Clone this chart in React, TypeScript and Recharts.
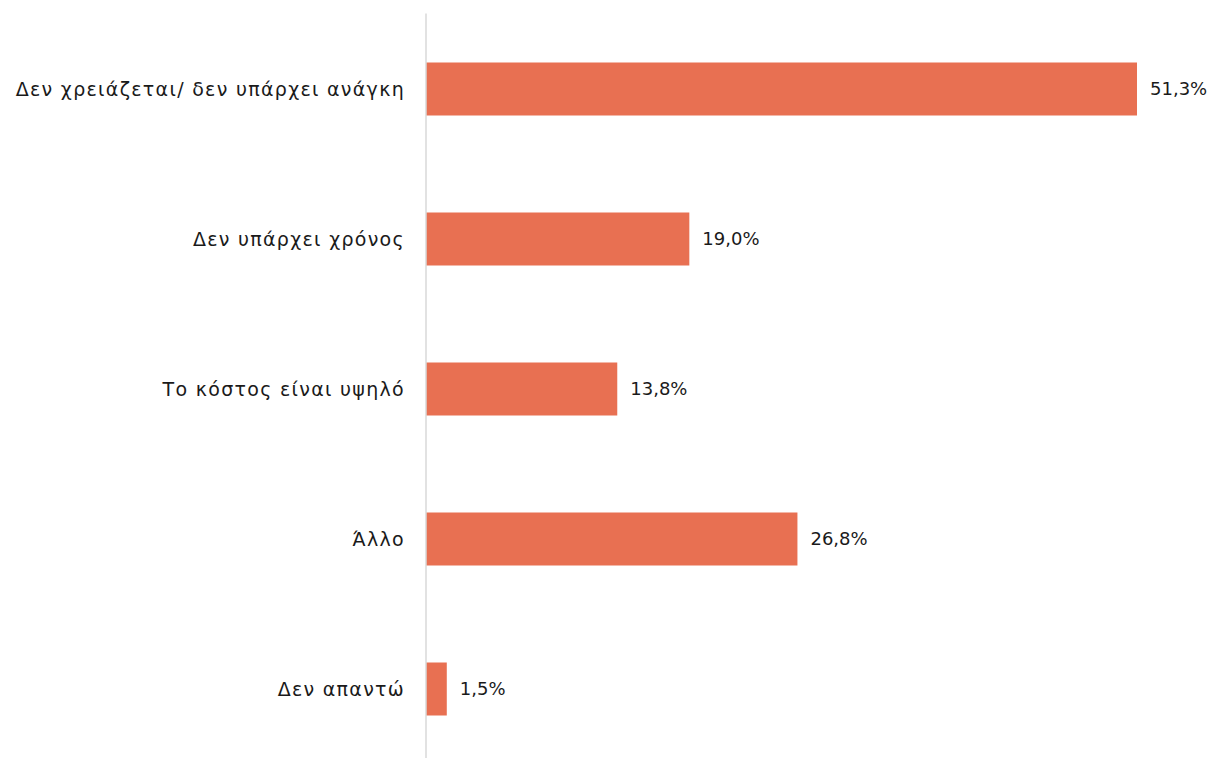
import { ComposedChart, Bar, XAxis, YAxis, LabelList } from "recharts";

const reasons = [
  "Δεν χρειάζεται/ δεν υπάρχει ανάγκη",
  "Δεν υπάρχει χρόνος",
  "Το κόστος είναι υψηλό",
  "Άλλο",
  "Δεν απαντώ",
];
const shares = [51.3, 19.0, 13.8, 26.8, 1.5];

const data = reasons.map((reason, i) => ({ reason, share: shares[i] }));

const font = "'DejaVu Sans', sans-serif";

function ReasonTick({ x, y, payload }: any) {
  return (
    <text
      x={x + 1}
      y={y}
      textAnchor="end"
      dominantBaseline="central"
      fontFamily={font}
      fontSize={19}
      fill="#1a1a1a"
      style={{ letterSpacing: 1.3 }}
    >
      {payload.value}
    </text>
  );
}

export default function App() {
  return (
    <div
      style={{
        position: "fixed",
        top: 0,
        left: 0,
        width: 1211,
        height: 758,
        overflow: "hidden",
        background: "#fff",
        fontFamily: font,
      }}
    >
      <ComposedChart
        width={1211}
        height={770}
        data={data}
        layout="vertical"
        margin={{ top: 13.5, right: 74, bottom: 6.5, left: 0 }}
      >
        <XAxis type="number" domain={[0, 51.3]} hide />
        <YAxis
          type="category"
          dataKey="reason"
          width={426}
          tickLine={false}
          tickSize={0}
          tickMargin={22}
          axisLine={{ stroke: "#d9d9d9", strokeWidth: 1.5 }}
          tick={<ReasonTick />}
        />
        <Bar dataKey="share" fill="#e87052" barSize={53} isAnimationActive={false}>
          <LabelList
            dataKey="share"
            position="right"
            offset={13}
            formatter={(v: number) => `${v.toFixed(1).replace(".", ",")}%`}
            style={{ fontSize: 18, fill: "#1a1a1a", fontFamily: font }}
          />
        </Bar>
      </ComposedChart>
    </div>
  );
}
